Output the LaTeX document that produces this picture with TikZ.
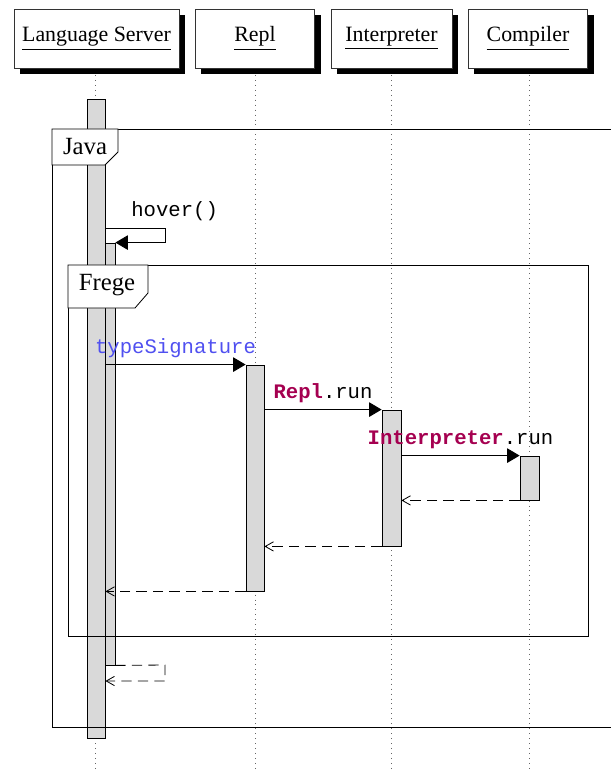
\documentclass[tikz,border=0pt]{standalone}
\usepackage{fontspec}
\setmainfont{Liberation Serif}
\setmonofont{Liberation Mono}
\usepackage{xcolor}
\usepackage{tikz}
\usetikzlibrary{arrows.meta, shadows, fit}
\definecolor{kwpurple}{RGB}{165,0,80}
\definecolor{sigblue}{RGB}{80,80,240}

\begin{document}
\begin{tikzpicture}[x=0.485pt, y=-0.485pt,
		header/.style={draw=black!80, fill=white, minimum height=28.6pt, font=\fontsize{10.6}{12}\selectfont,
			drop shadow={shadow xshift=3pt, shadow yshift=-3pt, fill=black, opacity=1}},
		lifeline/.style={dotted, black!60},
		actbar/.style={draw, fill=gray!30, inner sep=0pt},
		framelbl/.style={draw, fill=white},
		call/.style={-{Triangle[length=6pt, width=7pt]}},
		reply/.style={dash pattern=on 5pt off 3pt, -{Straight Barb[length=4pt, width=4.5pt]}},
		msg/.style={font=\ttfamily}]
			
			\useasboundingbox (0,0) rectangle (610,772);
			
			% Lifelines
			\foreach \x in {95, 255, 391, 529}
				\draw[lifeline] (\x,75) -- (\x,772);
			
			% Participants
			\node[header, minimum width=80pt] (ls) at (96.5,38.5) {\underline{Language Server}};
			\node[header, minimum width=58pt] (repl) at (255,38.5) {\underline{Repl}};
			\node[header, minimum width=58.7pt] (interp) at (391.5,38.5) {\underline{Interpreter}};
			\node[header, minimum width=58pt] (comp) at (528,38.5) {\underline{Compiler}};
			
			% Activations
			\node[actbar, fit={(87,99) (105,738)}] (lsact) {};
			\node[actbar, fit={(105,243) (115,665)}] (lshover) {};
			\node[actbar, fit={(246,365) (264,591)}] (replact) {};
			\node[actbar, fit={(382,410) (401,546)}] (interpact) {};
			\node[actbar, fit={(520,456) (539,500)}] (compact) {};
			
			% Java frame
			\draw (52,129) rectangle (625,727);
			\draw[framelbl] (52,129) -- (118,129) -- (118,152) -- (105,165) -- (52,165) -- cycle;
			\node[font=\large] (javalbl) at (85,147) {Java};
			
			% Frege frame
			\draw (68,265) rectangle (588,636);
			\draw[framelbl] (68,265) -- (148,265) -- (148,293) -- (135,308) -- (68,308) -- cycle;
			\node[font=\large] (fregelbl) at (107,285) {Frege};
			
			% hover() self call
			\coordinate (hoverturn) at (165,228);
			\draw[call] (lsact.east |- hoverturn) -- (hoverturn) -- (hoverturn |- lshover.north) -- (lshover.north east);
			\node[msg, anchor=base west] (hoverlbl) at (124,217) {hover()};
			
			% Calls
			\draw[call] (lsact.east |- replact.north) -- node[msg, above, text=sigblue] (siglbl) {typeSignature} (replact.north west);
			\draw[call] (replact.east |- interpact.north) -- node[msg, above] (repllbl) {\textcolor{kwpurple}{\textbf{Repl}}.run} (interpact.north west);
			\draw[call] (interpact.east |- compact.north) -- node[msg, above] (interplbl) {\textcolor{kwpurple}{\textbf{Interpreter}}.run} (compact.north west);
			
			% Returns
			\draw[reply] (compact.south west) -- (interpact.east |- compact.south);
			\draw[reply] (interpact.south west) -- (replact.east |- interpact.south);
			\draw[reply] (replact.south west) -- (lsact.east |- replact.south);
			
			% hover() return
			\coordinate (retturn) at (165,665);
			\coordinate (retback) at (165,681);
			\draw[reply] (lshover.south east) -- (retturn) -- (retback) -- (lsact.east |- retback);
			
		\end{tikzpicture}
\end{document}
